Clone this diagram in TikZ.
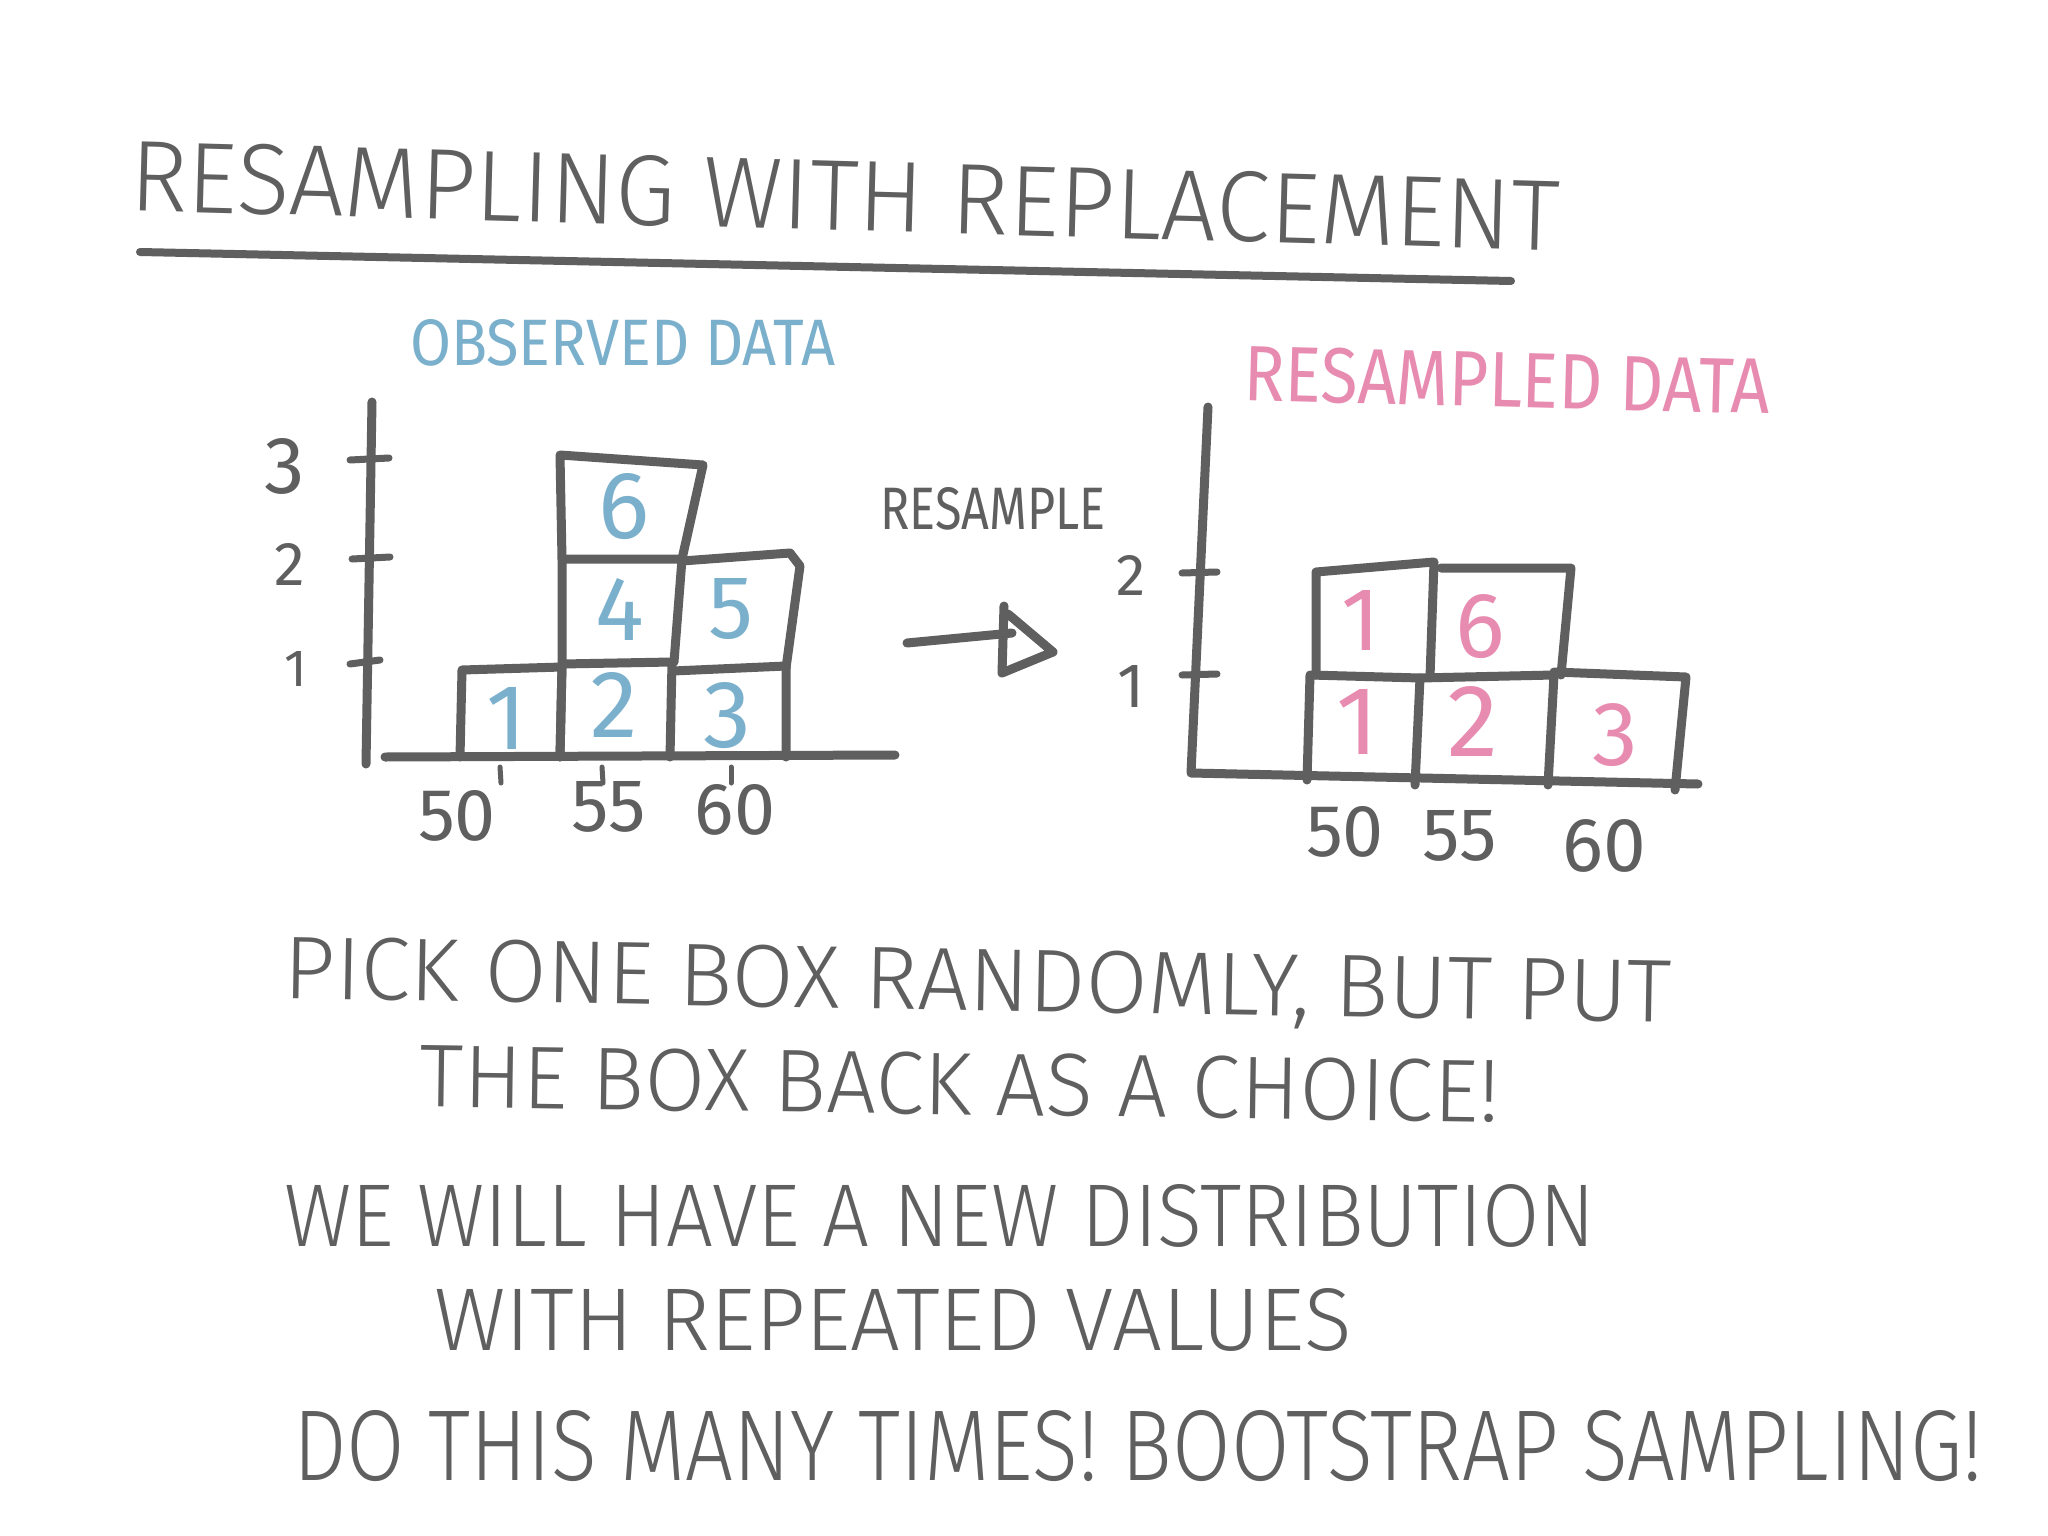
\documentclass[tikz,border=0pt]{standalone}
\usepackage{fontspec}
\setsansfont{Fira Sans Light}
\newfontfamily\hwbold{Fira Sans}
\definecolor{ink}{RGB}{95,95,95}
\definecolor{obsblue}{RGB}{122,176,204}
\definecolor{respink}{RGB}{232,139,176}
\newcommand\hwtext[3]{\resizebox{#1pt}{#2pt}{\sffamily #3}}
\newcommand\hwhead[3]{\resizebox{#1pt}{#2pt}{\hwbold #3}}
\newcommand\hwnum[2]{\resizebox{!}{#1pt}{\hwbold #2}}
\begin{document}
\begin{tikzpicture}[x=1pt,y=-1pt,line cap=round,line join=round,
  axisline/.style={draw=ink,line width=9pt},
  boxline/.style={draw=ink,line width=9pt},
  tickline/.style={draw=ink,line width=7pt},
  lbl/.style={inner sep=0pt,text=ink},
  bnum/.style={inner sep=0pt,text=obsblue},
  pnum/.style={inner sep=0pt,text=respink}]
\useasboundingbox[fill=white] (0,0) rectangle (2048,1536);

% title
\node[lbl,rotate=-1.6] (title) at (845,196) {\hwtext{1429}{70}{RESAMPLING WITH REPLACEMENT}};
\coordinate (ulA) at (140,252);
\coordinate (ulB) at (1511,281);
\draw[draw=ink,line width=8pt] (ulA) -- (ulB);

% headings
\node[bnum] (obs) at (623,343) {\hwhead{425}{46}{OBSERVED DATA}};
\node[pnum,rotate=-1.5] (resd) at (1507,380) {\hwhead{525}{55}{RESAMPLED DATA}};

% ---------- left chart ----------
\coordinate (lyT) at (372,402);
\coordinate (lyB) at (366,764);
\coordinate (lxL) at (385,757);
\coordinate (lxR) at (895,755);
\draw[axisline] (lyT) -- (lyB);
\draw[axisline] (lxL) -- (lxR);
\draw[tickline] (350,460) -- (389,458);
\draw[tickline] (352,559) -- (390,557);
\draw[tickline] (350,664) -- (380,660);
\node[lbl] (ly3) at (285,466) {\hwnum{55}{3}};
\node[lbl] (ly2) at (290,564) {\hwnum{42}{2}};
\node[lbl] (ly1) at (296,669) {\hwnum{35}{1}};
\draw[tickline,line width=5pt] (500,767) -- (501,783);
\draw[tickline,line width=5pt] (602,767) -- (603,783);
\draw[tickline,line width=5pt] (731,767) -- (731,783);
\node[lbl] (lx50) at (457,816) {\hwnum{50}{50}};
\node[lbl] (lx55) at (609,807) {\hwnum{50}{55}};
\node[lbl] (lx60) at (735,810) {\hwnum{50}{60}};

\draw[boxline] (460,757) -- (462,670) -- (562,667) -- (560,757);
\draw[boxline] (560,757) -- (562,664) -- (672,662) -- (670,757);
\draw[boxline] (673,671) -- (786,666) -- (786,757);
\draw[boxline] (562,664) -- (562,559) -- (682,559) -- (674,662);
\draw[boxline] (682,561) -- (790,553) -- (800,566) -- (786,668);
\draw[boxline] (562,559) -- (560,455) -- (703,465) -- (682,559);
\node[bnum] (o1) at (507,718) {\hwnum{62}{1}};
\node[bnum] (o2) at (614,705) {\hwnum{65}{2}};
\node[bnum] (o3) at (727,716) {\hwnum{65}{3}};
\node[bnum] (o4) at (620,609) {\hwnum{62}{4}};
\node[bnum] (o5) at (731,609) {\hwnum{60}{5}};
\node[bnum] (o6) at (624,507) {\hwnum{65}{6}};

% ---------- arrow ----------
\node[lbl] (resample) at (993,509) {\hwhead{225}{42}{RESAMPLE}};
\coordinate (arA) at (907,643);
\coordinate (arB) at (1012,633);
\coordinate (arT) at (1004,606);
\coordinate (arTip) at (1053,652);
\coordinate (arBot) at (1002,673);
\draw[draw=ink,line width=9pt] (arA) -- (arB);
\draw[draw=ink,line width=9pt] (arT) -- (arBot) -- (arTip) -- (1008,614);

% ---------- right chart ----------
\coordinate (ryT) at (1208,407);
\coordinate (ryB) at (1191,773);
\coordinate (rxR) at (1698,784);
\draw[axisline] (ryT) -- (ryB) -- (rxR);
\draw[tickline] (1182,573) -- (1217,572);
\draw[tickline] (1182,675) -- (1217,674);
\node[lbl] (ry2) at (1131,575) {\hwnum{40}{2}};
\node[lbl] (ry1) at (1131,686) {\hwnum{42}{1}};
\node[lbl] (rx50) at (1345,832) {\hwnum{50}{50}};
\node[lbl] (rx55) at (1460,836) {\hwnum{50}{55}};
\node[lbl] (rx60) at (1604,846) {\hwnum{52}{60}};

\draw[boxline] (1307,780) -- (1310,675) -- (1420,678) -- (1415,785);
\draw[boxline] (1420,678) -- (1554,675) -- (1548,785);
\draw[boxline] (1554,672) -- (1686,677) -- (1675,790);
\draw[boxline] (1316,675) -- (1316,572) -- (1434,562) -- (1430,677);
\draw[boxline] (1441,568) -- (1571,568) -- (1561,675);
\node[pnum] (r1a) at (1361,620) {\hwnum{60}{1}};
\node[pnum] (r6) at (1480,627) {\hwnum{63}{6}};
\node[pnum] (r1b) at (1358,722) {\hwnum{65}{1}};
\node[pnum] (r2) at (1473,721) {\hwnum{70}{2}};
\node[pnum] (r3) at (1615,735) {\hwnum{62}{3}};

% ---------- body text ----------
\node[lbl,rotate=-1] (l1) at (978,986) {\hwtext{1387}{62}{PICK ONE BOX RANDOMLY, BUT PUT}};
\node[lbl,rotate=-0.8] (l2) at (960,1084) {\hwtext{1079}{62}{THE BOX BACK AS A CHOICE!}};
\node[lbl] (l3) at (940,1216) {\hwtext{1311}{62}{WE WILL HAVE A NEW DISTRIBUTION}};
\node[lbl] (l4) at (893,1320) {\hwtext{917}{62}{WITH REPEATED VALUES}};
\node[lbl] (l5) at (1138,1446) {\hwtext{1689}{70}{DO THIS MANY TIMES! BOOTSTRAP SAMPLING!}};
\end{tikzpicture}
\end{document}
